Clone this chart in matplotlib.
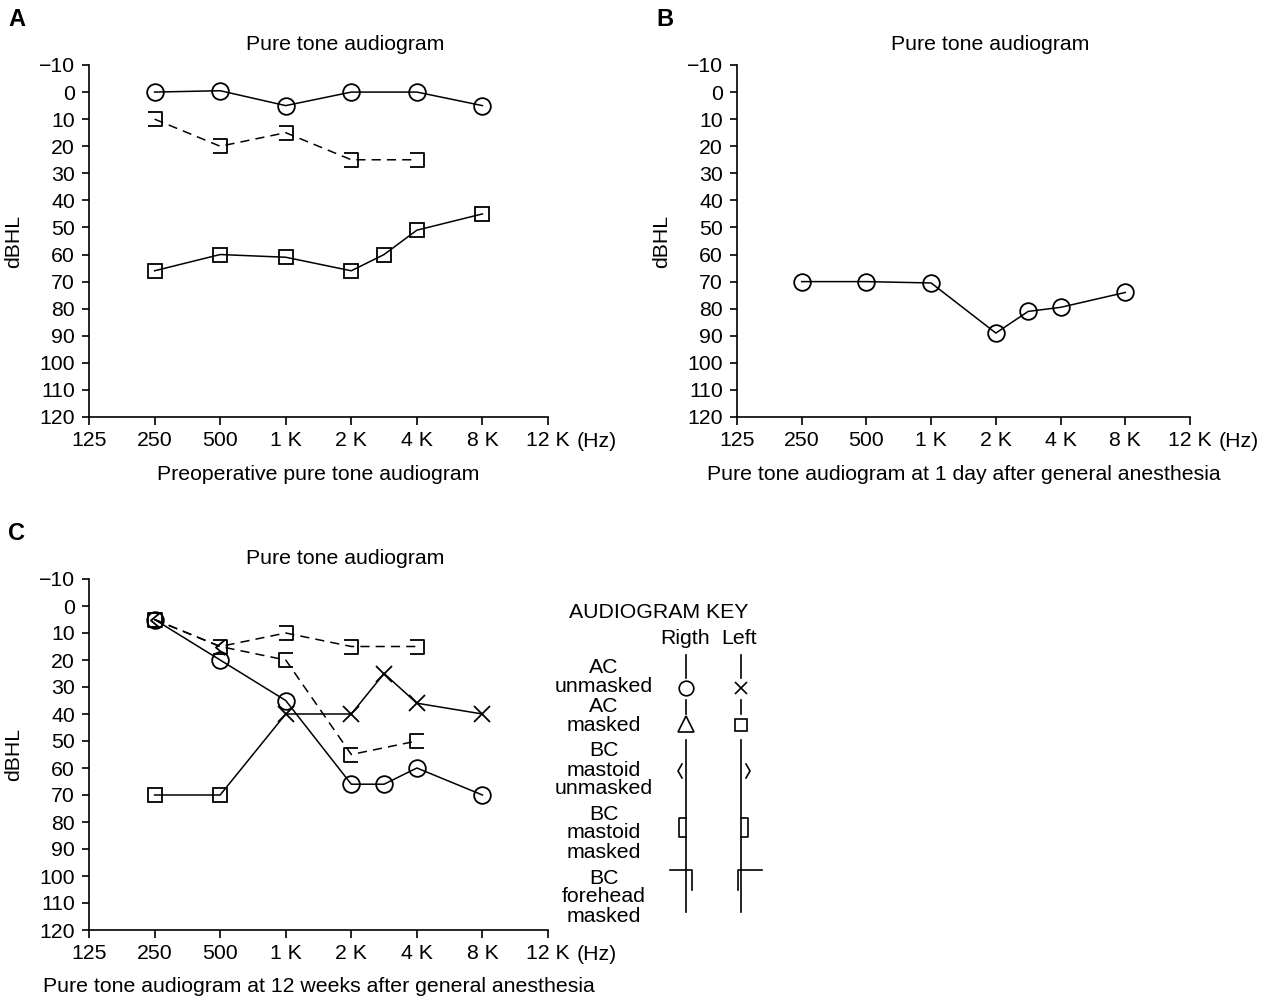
import numpy as np
import matplotlib
matplotlib.use('Agg')
import matplotlib.pyplot as plt
from matplotlib.path import Path
from matplotlib.transforms import blended_transform_factory

plt.rcParams['font.family'] = ['Liberation Sans', 'DejaVu Sans']
plt.rcParams['font.size'] = 15.3

# frequency axis (octave positions, 3K drawn half way between 2K and 4K)
freq_ticks = [125, 250, 500, 1000, 2000, 4000, 8000, 12000]
freq_labels = ['125', '250', '500', '1 K', '2 K', '4 K', '8 K', '12 K']
freq_pos = {125: 0, 250: 1, 500: 2, 1000: 3, 2000: 4, 3000: 4.5, 4000: 5, 8000: 6, 12000: 7}
db_ticks = list(range(-10, 121, 10))

# A: preoperative
a_right_ac_f = [250, 500, 1000, 2000, 4000, 8000]
a_right_ac_db = [0, -0.5, 5, 0, 0, 5]
a_left_bc_f = [250, 500, 1000, 2000, 4000]
a_left_bc_db = [10, 20, 15, 25, 25]
a_left_acm_f = [250, 500, 1000, 2000, 3000, 4000, 8000]
a_left_acm_db = [66, 60, 61, 66, 60, 51, 45]

# B: 1 day after
b_right_ac_f = [250, 500, 1000, 2000, 3000, 4000, 8000]
b_right_ac_db = [70, 70, 70.5, 89, 81, 79.5, 74]

# C: 12 weeks after
c_right_ac_f = [250, 500, 1000, 2000, 3000, 4000, 8000]
c_right_ac_db = [5, 20, 35, 66, 66, 60, 70]
c_left_ac_f = [250, 500, 1000, 2000, 3000, 4000, 8000]
c_left_ac_db = [70, 70, 40, 40, 25, 36, 40]
c_left_ac_mk = ['s', 's', 'x', 'x', 'x', 'x', 'x']
c_left_bc_f = [250, 500, 1000, 2000, 4000]
c_left_bc_db = [5, 15, 10, 15, 15]
c_right_bc_f = [250, 500, 1000, 2000, 4000]
c_right_bc_db = [5, 15, 20, 55, 50]
c_right_bcu_f = [250, 500]
c_right_bcu_db = [5, 15]

W, H = 1267, 1001
fig = plt.figure(figsize=(W / 100, H / 100), dpi=100)

rbr = Path([(-0.5, 0.5), (0.5, 0.5), (0.5, -0.5), (-0.5, -0.5)],
           [Path.MOVETO, Path.LINETO, Path.LINETO, Path.LINETO])
lbr = Path([(0.5, 0.5), (-0.5, 0.5), (-0.5, -0.5), (0.5, -0.5)],
           [Path.MOVETO, Path.LINETO, Path.LINETO, Path.LINETO])
lt = Path([(0.3, 0.5), (-0.3, 0), (0.3, -0.5)], [Path.MOVETO, Path.LINETO, Path.LINETO])

def pos(fs):
    return [freq_pos[f] for f in fs]

def make_axes(l, r, t, b, title, xlabel, letter, ylab_x):
    ax = fig.add_axes([l / W, 1 - b / H, (r - l) / W, (b - t) / H])
    ax.set_xlim(0, 7)
    ax.set_ylim(120, -10)
    ax.set_xticks([freq_pos[f] for f in freq_ticks])
    ax.set_xticklabels(freq_labels)
    ax.set_yticks(db_ticks)
    for s in ['top', 'right']:
        ax.spines[s].set_visible(False)
    for s in ['left', 'bottom']:
        ax.spines[s].set_linewidth(1.2)
    ax.tick_params(axis='x', direction='out', length=6, width=1.2, pad=4)
    ax.tick_params(axis='y', direction='out', length=5, width=1.2, pad=5)
    tr = blended_transform_factory(ax.transData, ax.transAxes)
    ax.text(7.44, -0.07, '(Hz)', transform=tr, ha='left', va='center')
    cx = (l + r) / 2
    fig.text((cx + 27) / W, 1 - (t - 21) / H, title, ha='center', va='center')
    fig.text(cx / W, 1 - (b + 57) / H, xlabel, ha='center', va='center')
    fig.text((l - 81) / W, 1 - (t - 45) / H, letter, ha='left', va='center',
             fontweight='bold', fontsize=17)
    fig.text(ylab_x / W, 1 - ((t + b) / 2) / H, 'dBHL', rotation=90, ha='center', va='center')
    return ax

mk = dict(mfc='none', mec='black', mew=1.3, color='black', lw=1.1, clip_on=False)

axA = make_axes(89, 548, 65, 417, 'Pure tone audiogram', 'Preoperative pure tone audiogram', 'A', 14)
axA.plot(pos(a_right_ac_f), a_right_ac_db, marker='o', ms=12, **mk)
axA.plot(pos(a_left_bc_f), a_left_bc_db, marker=rbr, ms=10, ls=(0, (6, 4)), **mk)
axA.plot(pos(a_left_acm_f), a_left_acm_db, marker='s', ms=10, **mk)

axB = make_axes(737, 1190, 65, 417, 'Pure tone audiogram',
                'Pure tone audiogram at 1 day after general anesthesia', 'B', 662)
axB.plot(pos(b_right_ac_f), b_right_ac_db, marker='o', ms=12, **mk)

axC = make_axes(89, 548, 579, 930, 'Pure tone audiogram',
                'Pure tone audiogram at 12 weeks after general anesthesia', 'C', 14)
axC.plot(pos(c_right_ac_f), c_right_ac_db, marker='o', ms=12, **mk)
axC.plot(pos(c_left_ac_f), c_left_ac_db, color='black', lw=1.1, clip_on=False)
for f, d, m in zip(c_left_ac_f, c_left_ac_db, c_left_ac_mk):
    axC.plot([freq_pos[f]], [d], marker=m, ms=10 if m == 's' else 12, ls='none', **mk)
axC.plot(pos(c_left_bc_f), c_left_bc_db, marker=rbr, ms=10, ls=(0, (6, 4)), **mk)
axC.plot(pos(c_right_bc_f), c_right_bc_db, marker=lbr, ms=10, ls=(0, (6, 4)),
         markevery=[0, 2, 3, 4], **mk)
axC.plot(pos(c_right_bcu_f), c_right_bcu_db, marker=lt, ms=11, ls='none', **mk)

# audiogram key
k = fig.add_axes([0, 0, 1, 1])
k.set_xlim(0, W)
k.set_ylim(H, 0)
k.axis('off')
k.patch.set_alpha(0)
kl = dict(color='black', lw=1.2)
k.text(659, 612, 'AUDIOGRAM KEY', ha='center', va='center')
k.text(685, 638, 'Rigth', ha='center', va='center')
k.text(739, 638, 'Left', ha='center', va='center')
for x in (686, 741):
    k.plot([x, x], [655, 678], **kl)
    k.plot([x, x], [700, 714], **kl)
    k.plot([x, x], [740, 912], **kl)
k.plot([686], [688], marker='o', ms=10.5, mfc='none', mec='black', mew=1.2)
k.plot([741], [688], marker='x', ms=8, mec='black', mew=1.2)
k.plot([686], [724], marker='^', ms=12, mfc='none', mec='black', mew=1.2)
k.plot([741], [725], marker='s', ms=9, mfc='none', mec='black', mew=1.2)
k.plot([682, 678, 682], [764, 771, 778], **kl)
k.plot([746, 750, 746], [764, 771, 778], **kl)
k.plot([686, 679, 679, 686], [818, 818, 837, 837], **kl)
k.plot([741, 748, 748, 741], [818, 818, 837, 837], **kl)
k.plot([670, 692, 692], [870, 870, 890], **kl)
k.plot([762, 738, 738], [870, 870, 890], **kl)
key_labels = ['AC\nunmasked', 'AC\nmasked', 'BC\nmastoid\nunmasked',
              'BC\nmastoid\nmasked', 'BC\nforehead\nmasked']
key_y = [677, 716, 770, 833, 897]
for t, y in zip(key_labels, key_y):
    k.text(604, y, t, ha='center', va='center', linespacing=1.0)

fig.savefig('out.png', dpi=100)
